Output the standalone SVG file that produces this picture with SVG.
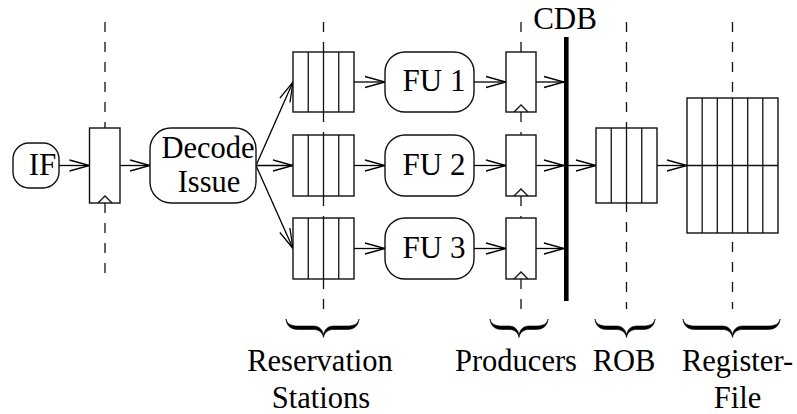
<svg xmlns="http://www.w3.org/2000/svg" width="797" height="414" viewBox="0 0 797 414">
  <defs>
    <marker id="arrow" markerUnits="userSpaceOnUse" markerWidth="24" markerHeight="14" refX="21" refY="7" orient="auto">
      <path d="M1,1.5 L21,7 L1,12.5" fill="none" stroke="#000" stroke-width="1.3"/>
    </marker>
  </defs>
  <style>
    .box { fill: #fff; stroke: #111; stroke-width: 1.4; }
    .cell { fill: none; stroke: #111; stroke-width: 1.3; }
    .clk { fill: none; stroke: #111; stroke-width: 1.3; }
    .stage { fill: none; stroke: #111; stroke-width: 1.3; stroke-dasharray: 10 10; }
    .wire { fill: none; stroke: #000; stroke-width: 1.3; marker-end: url(#arrow); }
    .brace { fill: #000; stroke: #000; stroke-width: 0.6; stroke-linejoin: round; }
    text { font-family: "Liberation Serif", "Times New Roman", serif; font-size: 31px; fill: #000; text-anchor: middle; }
    .dec { font-size: 30.5px; }
    .lbl { font-size: 30.5px; }
  </style>

  <!-- pipeline stage boundaries -->
  <g id="stage-lines">
    <line class="stage" x1="105" y1="22" x2="105" y2="128"/>
    <line class="stage" x1="105" y1="203" x2="105" y2="273"/>
    <line class="stage" x1="323.5" y1="22" x2="323.5" y2="52"/>
    <line class="stage" x1="323.5" y1="112" x2="323.5" y2="135"/>
    <line class="stage" x1="323.5" y1="196" x2="323.5" y2="218"/>
    <line class="stage" x1="323.5" y1="279" x2="323.5" y2="309"/>
    <line class="stage" x1="521" y1="22" x2="521" y2="52"/>
    <line class="stage" x1="521" y1="112" x2="521" y2="135"/>
    <line class="stage" x1="521" y1="196" x2="521" y2="218"/>
    <line class="stage" x1="521" y1="279" x2="521" y2="309"/>
    <line class="stage" x1="626.5" y1="22" x2="626.5" y2="309"/>
    <line class="stage" x1="732.5" y1="22" x2="732.5" y2="309"/>
  </g>

  <!-- connectors -->
  <g id="connectors">
    <line class="wire" x1="59" y1="165.5" x2="89.5" y2="165.5"/>
    <line class="wire" x1="120" y1="165.5" x2="150" y2="165.5"/>
    <line class="wire" x1="256" y1="165.5" x2="293" y2="82"/>
    <line class="wire" x1="256" y1="165.5" x2="293" y2="165.5"/>
    <line class="wire" x1="256" y1="165.5" x2="293" y2="248.5"/>
    <line class="wire" x1="354" y1="82" x2="385" y2="82"/>
    <line class="wire" x1="354" y1="165.5" x2="385" y2="165.5"/>
    <line class="wire" x1="354" y1="248.5" x2="385" y2="248.5"/>
    <line class="wire" x1="474" y1="82" x2="506" y2="82"/>
    <line class="wire" x1="474" y1="165.5" x2="506" y2="165.5"/>
    <line class="wire" x1="474" y1="248.5" x2="506" y2="248.5"/>
    <line class="wire" x1="536" y1="82" x2="564" y2="82"/>
    <line class="wire" x1="536" y1="165.5" x2="564" y2="165.5"/>
    <line class="wire" x1="536" y1="248.5" x2="564" y2="248.5"/>
    <line class="wire" x1="568" y1="165.5" x2="596" y2="165.5"/>
    <line class="wire" x1="657" y1="165.5" x2="687" y2="165.5"/>
  </g>

  <!-- instruction fetch -->
  <g id="if">
    <rect class="box" x="13" y="143" width="46" height="45" rx="16"/>
    <text x="42.5" y="175">IF</text>
  </g>

  <!-- fetch/decode pipeline register -->
  <g id="reg-if">
    <rect class="box" x="89.5" y="128" width="30.5" height="75"/>
    <polyline class="clk" points="98,203 105,196 112,203"/>
  </g>

  <!-- decode / issue -->
  <g id="decode">
    <rect class="box" x="150" y="128" width="106" height="75" rx="21"/>
    <text class="dec" x="208" y="157.5">Decode</text>
    <text class="dec" x="209" y="191.5">Issue</text>
  </g>

  <!-- reservation stations -->
  <g id="rs1">
    <rect class="box" x="293" y="52" width="61" height="60"/>
    <path class="cell" d="M308.25,52 V112 M323.5,52 V112 M338.75,52 V112"/>
  </g>
  <g id="rs2">
    <rect class="box" x="293" y="135" width="61" height="61"/>
    <path class="cell" d="M308.25,135 V196 M323.5,135 V196 M338.75,135 V196"/>
  </g>
  <g id="rs3">
    <rect class="box" x="293" y="218" width="61" height="61"/>
    <path class="cell" d="M308.25,218 V279 M323.5,218 V279 M338.75,218 V279"/>
  </g>

  <!-- functional units -->
  <g id="fu1">
    <rect class="box" x="385" y="52" width="89" height="60" rx="20"/>
    <text x="434" y="91">FU 1</text>
  </g>
  <g id="fu2">
    <rect class="box" x="385" y="135" width="89" height="61" rx="20"/>
    <text x="434" y="174.5">FU 2</text>
  </g>
  <g id="fu3">
    <rect class="box" x="385" y="218" width="89" height="61" rx="20"/>
    <text x="434" y="257.5">FU 3</text>
  </g>

  <!-- producer registers -->
  <g id="prod1">
    <rect class="box" x="506" y="52" width="30" height="60"/>
    <polyline class="clk" points="514,112 521,105 528,112"/>
  </g>
  <g id="prod2">
    <rect class="box" x="506" y="135" width="30" height="61"/>
    <polyline class="clk" points="514,196 521,189 528,196"/>
  </g>
  <g id="prod3">
    <rect class="box" x="506" y="218" width="30" height="61"/>
    <polyline class="clk" points="514,279 521,272 528,279"/>
  </g>

  <!-- common data bus -->
  <g id="cdb">
    <rect x="564" y="37" width="4.6" height="264" fill="#000"/>
    <text x="565" y="29">CDB</text>
  </g>

  <!-- reorder buffer -->
  <g id="rob">
    <rect class="box" x="596" y="128" width="61" height="75"/>
    <path class="cell" d="M611.25,128 V203 M626.5,128 V203 M641.75,128 V203"/>
  </g>

  <!-- register file -->
  <g id="regfile">
    <rect class="box" x="687" y="98" width="91" height="135"/>
    <path class="cell" d="M702.2,98 V233 M717.3,98 V233 M732.5,98 V233 M747.7,98 V233 M762.8,98 V233 M687,165.5 H778"/>
  </g>

  <!-- group braces and labels -->
  <g id="labels">
    <path class="brace" d="M286,319 C287,324 291,326 298,326 L313.5,326 C318.5,326 322.5,329 323.5,335 C324.5,329 328.5,326 333.5,326 L347,326 C354,326 358,324 359,319 C358.5,325 355,329.5 347,329.5 L333.5,329.5 C328.5,329.5 324.5,332 323.5,337.5 C322.5,332 318.5,329.5 313.5,329.5 L298,329.5 C290,329.5 286.5,325 286,319 Z"/>
    <path class="brace" d="M490,319 C491,324 495,326 502,326 L509,326 C514,326 518,329 519,335 C520,329 524,326 529,326 L536,326 C543,326 547,324 548,319 C547.5,325 544,329.5 536,329.5 L529,329.5 C524,329.5 520,332 519,337.5 C518,332 514,329.5 509,329.5 L502,329.5 C494,329.5 490.5,325 490,319 Z"/>
    <path class="brace" d="M595,319 C596,324 600,326 607,326 L616.5,326 C621.5,326 625.5,329 626.5,335 C627.5,329 631.5,326 636.5,326 L643,326 C650,326 654,324 655,319 C654.5,325 651,329.5 643,329.5 L636.5,329.5 C631.5,329.5 627.5,332 626.5,337.5 C625.5,332 621.5,329.5 616.5,329.5 L607,329.5 C599,329.5 595.5,325 595,319 Z"/>
    <path class="brace" d="M683,319 C684,324 688,326 695,326 L722.5,326 C727.5,326 731.5,329 732.5,335 C733.5,329 737.5,326 742.5,326 L768,326 C775,326 779,324 780,319 C779.5,325 776,329.5 768,329.5 L742.5,329.5 C737.5,329.5 733.5,332 732.5,337.5 C731.5,332 727.5,329.5 722.5,329.5 L695,329.5 C687,329.5 683.5,325 683,319 Z"/>
    <text class="lbl" x="320" y="371">Reservation</text>
    <text class="lbl" x="321" y="408">Stations</text>
    <text class="lbl" x="516" y="371">Producers</text>
    <text class="lbl" x="624" y="371">ROB</text>
    <text class="lbl" x="737.5" y="371">Register-</text>
    <text class="lbl" x="737.5" y="408">File</text>
  </g>
</svg>
